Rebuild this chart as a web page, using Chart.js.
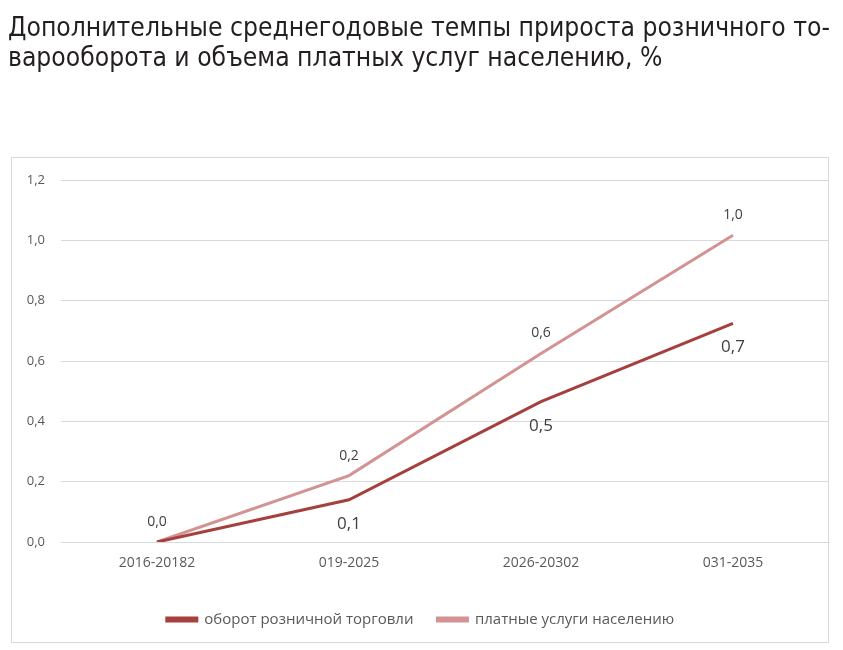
<!DOCTYPE html>
<html><head><meta charset="utf-8">
<script src="https://cdn.jsdelivr.net/npm/chart.js@4"></script>
<style>html,body{margin:0;padding:0;background:#fff;}#wrap{width:843px;height:650px;position:relative;}</style>
</head><body><div id="wrap"><canvas id="c" width="843" height="650"></canvas></div>
<script>
const titleLines = ["Дополнительные среднегодовые темпы прироста розничного то-", "варооборота и объема платных услуг населению, %"];
const categories = ["2016-20182", "019-2025", "2026-20302", "031-2035"];
const seriesNames = ["оборот розничной торговли", "платные услуги населению"];
const retailValues = [0.0, 0.14, 0.465, 0.725];
const servicesValues = [0.0, 0.22, 0.625, 1.017];
const retailLabels = [null, "0,1", "0,5", "0,7"];
const servicesLabels = ["0,0", "0,2", "0,6", "1,0"];
const yTicks = [0, 0.2, 0.4, 0.6, 0.8, 1.0, 1.2];

const frame = {
  id: 'frame',
  beforeDraw(chart) {
    const ctx = chart.ctx;
    ctx.save();
    ctx.strokeStyle = '#d9d9d9';
    ctx.lineWidth = 1;
    ctx.strokeRect(11.5, 157.5, 817, 485);
    ctx.fillStyle = '#231f20';
    ctx.font = '27px "DejaVu Sans Condensed", "Liberation Sans Narrow", sans-serif';
    ctx.textAlign = 'left';
    ctx.textBaseline = 'alphabetic';
    const w0 = ctx.measureText(titleLines[0]).width;
    const k = 822 / w0;
    ctx.fillText(titleLines[0], 8, 36, 822);
    ctx.fillText(titleLines[1], 8, 66, ctx.measureText(titleLines[1]).width * k);
    ctx.restore();
  }
};
const dataLabels = {
  id: 'dataLabels',
  afterDatasetsDraw(chart) {
    const ctx = chart.ctx;
    ctx.save();
    ctx.textAlign = 'center';
    ctx.textBaseline = 'middle';
    const m1 = chart.getDatasetMeta(0), m2 = chart.getDatasetMeta(1);
    ctx.fillStyle = '#404040';
    ctx.font = '17px "Open Sans", sans-serif';
    m1.data.forEach((p, i) => { if (retailLabels[i]) ctx.fillText(retailLabels[i], p.x, p.y + 24); });
    ctx.font = '14px "Open Sans", sans-serif';
    m2.data.forEach((p, i) => { if (servicesLabels[i]) ctx.fillText(servicesLabels[i], p.x, p.y - 20); });
    ctx.restore();
  }
};

new Chart(document.getElementById('c'), {
  type: 'line',
  data: {
    labels: categories,
    datasets: [
      { label: seriesNames[0], data: retailValues, borderColor: '#a5403e', backgroundColor: '#a5403e', borderWidth: 3, pointRadius: 0, tension: 0 },
      { label: seriesNames[1], data: servicesValues, borderColor: '#d39392', backgroundColor: '#d39392', borderWidth: 3, pointRadius: 0, tension: 0 }
    ]
  },
  options: {
    responsive: false,
    animation: false,
    layout: { padding: { left: 12, right: 14, top: 180, bottom: 13 } },
    plugins: {
      title: { display: false },
      legend: {
        position: 'bottom',
        labels: { boxWidth: 30, boxHeight: 3, padding: 24, color: '#595959', font: { family: '"Open Sans", sans-serif', size: 15 } }
      },
      tooltip: { enabled: false }
    },
    scales: {
      x: {
        offset: true,
        grid: { display: false, drawTicks: false },
        border: { color: '#d9d9d9' },
        afterFit(s) { s.height = 46; },
        ticks: { color: '#595959', font: { family: '"Open Sans", sans-serif', size: 14 }, padding: 13 }
      },
      y: {
        min: 0, max: 1.2,
        afterBuildTicks(s) { s.ticks = yTicks.map(v => ({ value: v })); },
        afterFit(s) { s.width = 49; },
        grid: { color: '#d9d9d9', drawTicks: false },
        border: { display: false },
        ticks: { color: '#595959', font: { family: '"Open Sans", sans-serif', size: 13 }, padding: 16,
          callback: v => v.toFixed(1).replace('.', ',') }
      }
    }
  },
  plugins: [frame, dataLabels]
});
</script></body></html>
